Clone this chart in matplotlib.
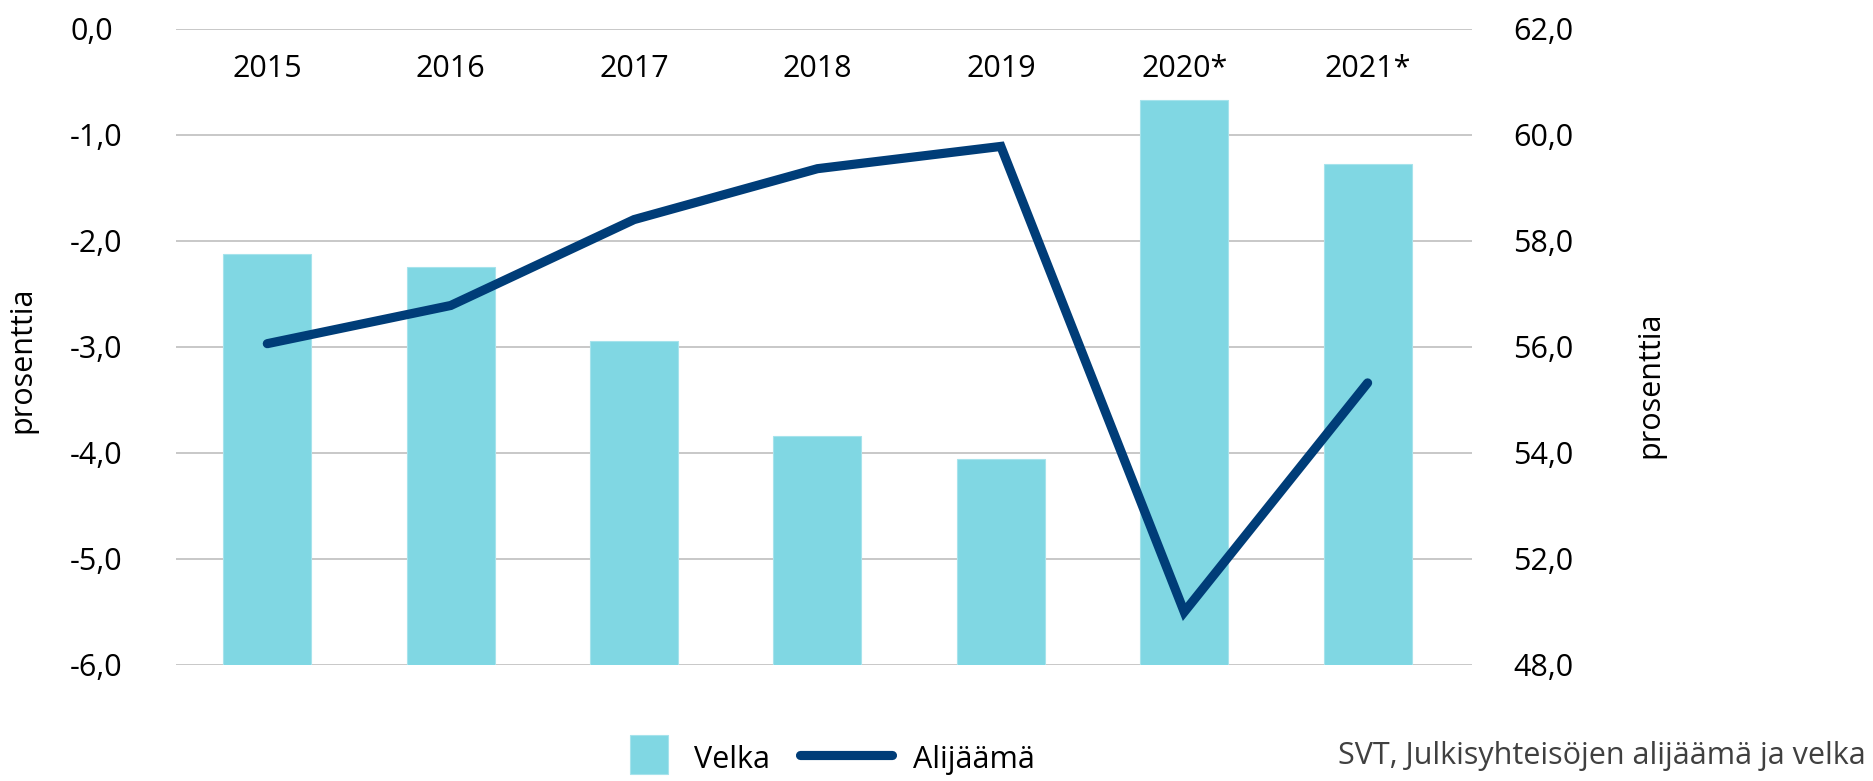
import matplotlib
matplotlib.use("Agg")
import matplotlib.pyplot as plt
from matplotlib.lines import Line2D
from matplotlib.patches import Rectangle
from matplotlib.legend_handler import HandlerPatch

plt.rcParams['font.family'] = ['Open Sans', 'DejaVu Sans']

# data
years = ['2015', '2016', '2017', '2018', '2019', '2020*', '2021*']
velka = [57.75, 57.51, 56.11, 54.32, 53.88, 60.66, 59.44]       # bars, right axis
alijaama = [-2.97, -2.61, -1.80, -1.32, -1.11, -5.50, -3.34]     # line, left axis

left_ticks = [0, -1, -2, -3, -4, -5, -6]
left_labels = ['0,0', '-1,0', '-2,0', '-3,0', '-4,0', '-5,0', '-6,0']
right_ticks = [62, 60, 58, 56, 54, 52, 50]
right_labels = ['62,0', '60,0', '58,0', '56,0', '54,0', '52,0', '48,0']

bar_color = '#80d7e3'
line_color = '#003d78'
grid_color = '#bfbfbf'
fs = 22

W, H = 1873, 781
fig = plt.figure(figsize=(W / 100, H / 100), dpi=100)
x0, x1, y0, y1 = 175.6, 1471.6, 28.7, 665.0
ax = fig.add_axes([x0 / W, 1 - y1 / H, (x1 - x0) / W, (y1 - y0) / H])
axb = ax.twinx()
axb.set_zorder(ax.get_zorder() - 1)
ax.patch.set_visible(False)

xs = list(range(len(years)))

# bars (debt) on the right scale
axb.bar(xs, velka, width=0.48, color=bar_color, edgecolor='#a6e3ec', linewidth=0.8)
axb.set_ylim(50, 62)
axb.set_yticks(right_ticks, right_labels)
axb.grid(axis='y', color=grid_color, linewidth=1.2)
axb.set_axisbelow(True)
axb.tick_params(axis='y', length=0, labelsize=fs, pad=30)
for t in axb.get_yticklabels():
    t.set_horizontalalignment('left')
axb.tick_params(axis='x', bottom=False, labelbottom=False)
axb.set_ylabel('prosenttia', fontsize=fs)
axb.yaxis.set_label_coords(1.1376, 0.44)
axb.yaxis.label.set_verticalalignment('center')

# line (deficit) on the left scale
ax.plot(xs, alijaama, color=line_color, linewidth=6.6,
        solid_capstyle='round', solid_joinstyle='miter')
ax.set_ylim(-6, 0)
ax.set_xlim(-0.5, 6.567)   # gridlines run a little past the last category
ax.set_yticks(left_ticks, left_labels)
ax.tick_params(axis='y', length=0, labelsize=fs, pad=76)
for t in ax.get_yticklabels():
    t.set_horizontalalignment('left')
ax.set_ylabel('prosenttia', fontsize=fs)
ax.yaxis.set_label_coords(-0.1185, 0.479)
ax.yaxis.label.set_verticalalignment('center')

ax.set_xticks(xs, years)
ax.tick_params(axis='x', top=False, bottom=False, labeltop=True, labelbottom=False,
               labelsize=fs, pad=-43)

for a in (ax, axb):
    for s in a.spines.values():
        s.set_visible(False)


def square(legend, orig_handle, xdescent, ydescent, width, height, fontsize):
    s = height + ydescent
    return Rectangle((-xdescent + width - s - 3, -ydescent), s, s)


handles = [Rectangle((0, 0), 1, 1, facecolor=bar_color, edgecolor='#a6e3ec', linewidth=0.8),
           Line2D([], [], color=line_color, linewidth=6.6, solid_capstyle='round')]
fig.legend(handles, ['Velka', 'Alijäämä'], loc='center', bbox_to_anchor=(808 / W, 1 - 758 / H),
           ncol=2, frameon=False, fontsize=fs, handlelength=3.0, handleheight=1.25,
           handletextpad=0.7, columnspacing=1.0, borderpad=0,
           handler_map={Rectangle: HandlerPatch(patch_func=square)})

fig.text(1866 / W, 1 - 756 / H, 'SVT, Julkisyhteisöjen alijäämä ja velka',
         ha='right', va='center', fontsize=22, color='#404040')

fig.savefig('out.png', dpi=100)
